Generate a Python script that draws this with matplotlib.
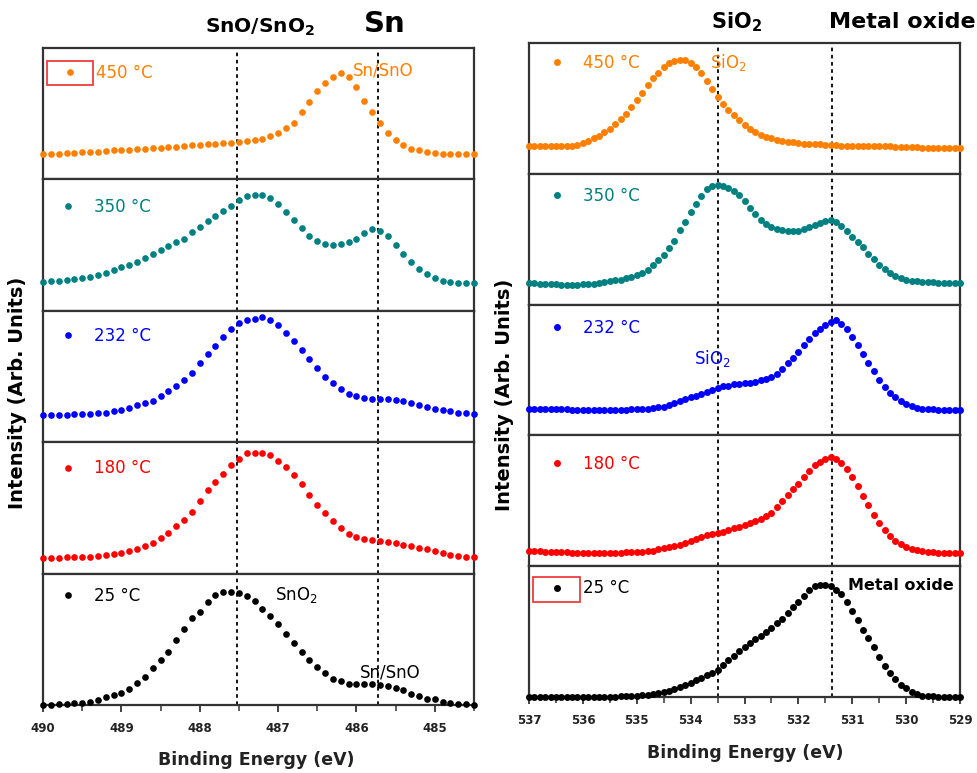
import numpy as np
import matplotlib
matplotlib.use("Agg")
import matplotlib.pyplot as plt
from matplotlib.patches import Rectangle
from matplotlib.ticker import MultipleLocator

plt.rcParams['font.family'] = ['DejaVu Sans']

# ---------------- data ----------------
temps = ["450 °C", "350 °C", "232 °C", "180 °C", "25 °C"]
colors = ["#FF8000", "#008080", "#0000FF", "#FF0000", "#000000"]

sn_energy = np.round(np.linspace(490.0, 484.5, 56), 2)
sn_450 = [0.19, 0.19, 0.195, 0.20, 0.20, 0.205, 0.21, 0.21, 0.215, 0.22,
          0.22, 0.225, 0.23, 0.235, 0.24, 0.24, 0.245, 0.25, 0.255, 0.26,
          0.265, 0.27, 0.27, 0.275, 0.28, 0.285, 0.29, 0.30, 0.31, 0.33,
          0.355, 0.39, 0.43, 0.51, 0.59, 0.67, 0.73, 0.78, 0.81, 0.78,
          0.70, 0.60, 0.51, 0.43, 0.35, 0.30, 0.26, 0.235, 0.22, 0.21,
          0.20, 0.195, 0.19, 0.19, 0.19, 0.19]
sn_350 = [0.22, 0.225, 0.23, 0.235, 0.24, 0.25, 0.26, 0.275, 0.29, 0.31,
          0.33, 0.35, 0.37, 0.40, 0.43, 0.46, 0.49, 0.52, 0.55, 0.60,
          0.64, 0.68, 0.72, 0.76, 0.80, 0.84, 0.87, 0.885, 0.88, 0.86,
          0.81, 0.75, 0.69, 0.63, 0.57, 0.53, 0.51, 0.50, 0.505, 0.52,
          0.55, 0.59, 0.62, 0.61, 0.57, 0.50, 0.43, 0.37, 0.32, 0.28,
          0.25, 0.23, 0.22, 0.215, 0.21, 0.21]
sn_232 = [0.21, 0.21, 0.21, 0.21, 0.215, 0.215, 0.215, 0.22, 0.225, 0.235,
          0.245, 0.26, 0.28, 0.295, 0.315, 0.35, 0.39, 0.43, 0.47, 0.53,
          0.60, 0.67, 0.73, 0.80, 0.86, 0.91, 0.93, 0.94, 0.95, 0.93,
          0.89, 0.83, 0.77, 0.70, 0.63, 0.565, 0.50, 0.45, 0.405, 0.37,
          0.35, 0.335, 0.33, 0.33, 0.33, 0.32, 0.31, 0.30, 0.285, 0.27,
          0.255, 0.245, 0.235, 0.225, 0.22, 0.215]
sn_180 = [0.12, 0.12, 0.12, 0.125, 0.125, 0.13, 0.13, 0.135, 0.14, 0.15,
          0.16, 0.17, 0.19, 0.21, 0.235, 0.27, 0.31, 0.36, 0.41, 0.47,
          0.555, 0.64, 0.70, 0.76, 0.83, 0.875, 0.915, 0.92, 0.92, 0.90,
          0.86, 0.81, 0.75, 0.68, 0.60, 0.52, 0.46, 0.40, 0.35, 0.30,
          0.28, 0.265, 0.255, 0.25, 0.24, 0.23, 0.22, 0.21, 0.195, 0.185,
          0.17, 0.16, 0.145, 0.135, 0.13, 0.125]
sn_25 = [0.0, 0.0, 0.005, 0.008, 0.012, 0.018, 0.025, 0.04, 0.06, 0.075,
         0.095, 0.125, 0.165, 0.21, 0.28, 0.345, 0.40, 0.495, 0.58, 0.66,
         0.71, 0.785, 0.835, 0.86, 0.86, 0.85, 0.83, 0.79, 0.73, 0.675,
         0.615, 0.54, 0.475, 0.405, 0.345, 0.29, 0.245, 0.20, 0.18, 0.16,
         0.16, 0.16, 0.16, 0.155, 0.145, 0.13, 0.115, 0.085, 0.07, 0.045,
         0.045, 0.025, 0.015, 0.01, 0.005, 0.0]

o_energy = np.round(np.linspace(537.0, 529.0, 81), 2)
o_450 = [0.21, 0.21, 0.21, 0.21, 0.21, 0.21, 0.21, 0.21,
         0.215, 0.22, 0.235, 0.25, 0.27, 0.29, 0.32, 0.345, 0.38, 0.42,
         0.46, 0.51, 0.565, 0.62, 0.68, 0.73, 0.77, 0.815, 0.845, 0.865,
         0.87, 0.87, 0.85, 0.815, 0.77, 0.71, 0.65, 0.59, 0.535, 0.49,
         0.45, 0.41, 0.375, 0.345, 0.32, 0.30, 0.285, 0.27, 0.26, 0.25,
         0.245, 0.24, 0.235, 0.23, 0.23, 0.225, 0.225, 0.22, 0.22, 0.22,
         0.215, 0.215, 0.215, 0.21, 0.21, 0.21, 0.21, 0.21, 0.21, 0.21,
         0.205, 0.205, 0.205, 0.205, 0.205, 0.20, 0.20, 0.20, 0.20, 0.20,
         0.20, 0.20, 0.20]
o_350 = [0.165, 0.165, 0.16, 0.16, 0.155, 0.155, 0.15, 0.15, 0.15, 0.15,
         0.155, 0.155, 0.16, 0.165, 0.17, 0.18, 0.185, 0.19, 0.20, 0.21,
         0.225, 0.24, 0.265, 0.30, 0.34, 0.38, 0.43, 0.49, 0.57, 0.635,
         0.71, 0.77, 0.83, 0.88, 0.91, 0.915, 0.905, 0.89, 0.87, 0.84,
         0.79, 0.74, 0.69, 0.645, 0.615, 0.595, 0.58, 0.57, 0.565, 0.56,
         0.565, 0.575, 0.59, 0.61, 0.625, 0.64, 0.65, 0.635, 0.60, 0.56,
         0.52, 0.48, 0.44, 0.39, 0.35, 0.305, 0.27, 0.24, 0.215, 0.20,
         0.19, 0.18, 0.18, 0.175, 0.17, 0.17, 0.165, 0.165, 0.165, 0.165,
         0.165]
o_232 = [0.20, 0.20, 0.20, 0.20, 0.20, 0.20, 0.20, 0.20, 0.195, 0.195,
         0.195, 0.195, 0.195, 0.195, 0.195, 0.195, 0.195, 0.195, 0.195, 0.20,
         0.20, 0.20, 0.205, 0.21, 0.215, 0.22, 0.23, 0.245, 0.26, 0.275,
         0.29, 0.30, 0.315, 0.33, 0.345, 0.36, 0.375, 0.38, 0.39, 0.395,
         0.40, 0.40, 0.41, 0.42, 0.43, 0.445, 0.47, 0.505, 0.55, 0.59,
         0.64, 0.69, 0.74, 0.78, 0.81, 0.845, 0.87, 0.88, 0.855, 0.81,
         0.75, 0.69, 0.62, 0.55, 0.49, 0.425, 0.37, 0.325, 0.29, 0.26,
         0.24, 0.225, 0.21, 0.205, 0.20, 0.20, 0.195, 0.195, 0.195, 0.195,
         0.195]
o_180 = [0.115, 0.115, 0.115, 0.11, 0.11, 0.11, 0.105, 0.105, 0.10, 0.10,
         0.10, 0.10, 0.10, 0.10, 0.10, 0.10, 0.10, 0.10, 0.105, 0.105,
         0.11, 0.11, 0.115, 0.12, 0.13, 0.14, 0.15, 0.155, 0.165, 0.18,
         0.19, 0.205, 0.22, 0.235, 0.245, 0.255, 0.265, 0.28, 0.29, 0.30,
         0.315, 0.33, 0.345, 0.36, 0.385, 0.41, 0.45, 0.50, 0.545, 0.59,
         0.63, 0.68, 0.73, 0.77, 0.80, 0.82, 0.835, 0.82, 0.79, 0.74,
         0.68, 0.615, 0.54, 0.465, 0.39, 0.33, 0.275, 0.23, 0.195, 0.17,
         0.15, 0.135, 0.125, 0.115, 0.11, 0.105, 0.10, 0.10, 0.10, 0.10,
         0.10]
o_25 = [0.0, 0.0, 0.0, 0.0, 0.0, 0.0, 0.0, 0.0, 0.0, 0.0,
        0.0, 0.0, 0.0, 0.0, 0.0, 0.0, 0.002, 0.005, 0.005, 0.008,
        0.01, 0.012, 0.015, 0.02, 0.028, 0.035, 0.045, 0.06, 0.075, 0.09,
        0.11, 0.13, 0.145, 0.165, 0.185, 0.21, 0.245, 0.28, 0.315, 0.35,
        0.38, 0.415, 0.44, 0.47, 0.50, 0.53, 0.565, 0.60, 0.645, 0.69,
        0.73, 0.775, 0.82, 0.845, 0.86, 0.86, 0.845, 0.82, 0.79, 0.73,
        0.66, 0.59, 0.51, 0.45, 0.38, 0.305, 0.235, 0.18, 0.135, 0.095,
        0.065, 0.04, 0.02, 0.01, 0.005, 0.005, 0.0, 0.0, 0.0, 0.0,
        0.0]

sn_series = [sn_450, sn_350, sn_232, sn_180, sn_25]
o_series = [o_450, o_350, o_232, o_180, o_25]
sn_lines = [487.53, 485.72]
o_lines = [533.5, 531.38]
sn_xticks = [490, 489, 488, 487, 486, 485]
o_xticks = [537, 536, 535, 534, 533, 532, 531, 530, 529]

# ---------------- figure ----------------
W, H = 977, 773
fig = plt.figure(figsize=(W / 100, H / 100), dpi=100)

def fx(px):
    return px / W

def fy(py):
    return 1 - py / H

FRAME = "#333333"

def make_column(x0, x1, ytop, ybot, energy, series, vlines, xlim, xticks,
                legend_y, ms):
    n = len(series)
    h = (ybot - ytop) / n
    axes = []
    for i in range(n):
        top = ytop + i * h
        ax = fig.add_axes([fx(x0), fy(top + h), fx(x1 - x0), h / H])
        ax.plot(energy, series[i], linestyle="none", marker="o", ms=ms,
                mew=0, color=colors[i], clip_on=False, label=temps[i],
                zorder=3)
        for v in vlines:
            ax.axvline(v, color="black", linestyle=(0, (2.0, 2.0)), lw=1.3,
                       zorder=2)
        ax.set_xlim(*xlim)
        ax.set_ylim(0, 1)
        ax.set_yticks([])
        for s in ax.spines.values():
            s.set_color(FRAME)
            s.set_linewidth(1.6)
        if i < n - 1:
            ax.set_xticks([])
        else:
            ax.set_xticks(xticks)
            ax.xaxis.set_minor_locator(MultipleLocator(0.5))
            ax.tick_params(axis="x", which="major", direction="out",
                           length=5, width=1.3, color=FRAME, pad=7,
                           labelsize=8.5, labelcolor="#222222")
            ax.tick_params(axis="x", which="minor", direction="out",
                           length=4, width=1.1, color=FRAME)
            for lab in ax.get_xticklabels():
                lab.set_fontweight("bold")
        leg = ax.legend(loc="center left",
                        bbox_to_anchor=(legend_y[i][0], legend_y[i][1]),
                        frameon=False, borderpad=0, borderaxespad=0,
                        handlelength=1.0, handletextpad=1.05,
                        markerscale=1.0, fontsize=12)
        for t in leg.get_texts():
            t.set_color(colors[i])
        axes.append(ax)
    return axes

left_leg = [(0.043, 0.81), (0.039, 0.79), (0.039, 0.81), (0.039, 0.80),
            (0.039, 0.83)]
right_leg = [(0.046, 0.85), (0.046, 0.83), (0.046, 0.82), (0.046, 0.785),
             (0.046, 0.83)]

left_axes = make_column(43, 474, 48, 705, sn_energy, sn_series, sn_lines,
                        (490, 484.5), sn_xticks, left_leg, 4.8)
right_axes = make_column(529, 960, 43, 697, o_energy, o_series, o_lines,
                         (537, 529), o_xticks, right_leg, 5.0)

# red boxes around legend markers
left_axes[0].add_patch(Rectangle((0.009, 0.72), 0.107, 0.18,
                                 transform=left_axes[0].transAxes,
                                 fill=False, edgecolor="#F03C3C", lw=1.3,
                                 clip_on=False, zorder=5))
right_axes[4].add_patch(Rectangle((0.009, 0.73), 0.109, 0.19,
                                  transform=right_axes[4].transAxes,
                                  fill=False, edgecolor="#F03C3C", lw=1.3,
                                  clip_on=False, zorder=5))

# annotations inside panels
left_axes[0].text(486.05, 0.83, "Sn/SnO", color=colors[0], fontsize=12,
                  ha="left", va="center")
left_axes[4].text(487.04, 0.84, "SnO$_2$", color="black", fontsize=12,
                  ha="left", va="center")
left_axes[4].text(485.96, 0.25, "Sn/SnO", color="black", fontsize=12,
                  ha="left", va="center")
right_axes[0].text(533.64, 0.85, "SiO$_2$", color=colors[0], fontsize=12,
                   ha="left", va="center")
right_axes[2].text(533.94, 0.59, "SiO$_2$", color=colors[2], fontsize=12,
                   ha="left", va="center")
right_axes[4].text(531.08, 0.85, "Metal oxide", color="black", fontsize=11.5,
                   fontweight="bold", ha="left", va="center")

# header labels
fig.text(fx(260), fy(27), "SnO/SnO$_\\mathbf{2}$", fontsize=14.5,
         fontweight="bold", ha="center", va="center")
fig.text(fx(385), fy(24), "Sn", fontsize=21, fontweight="bold",
         ha="center", va="center")
fig.text(fx(737), fy(22), "SiO$_\\mathbf{2}$", fontsize=15, fontweight="bold",
         ha="center", va="center")
fig.text(fx(902), fy(22), "Metal oxide", fontsize=16, fontweight="bold",
         ha="center", va="center")

# axis labels
fig.text(fx(18), fy(393), "Intensity (Arb. Units)", fontsize=14,
         fontweight="bold", rotation=90, ha="center", va="center")
fig.text(fx(504), fy(395), "Intensity (Arb. Units)", fontsize=14,
         fontweight="bold", rotation=90, ha="center", va="center")
fig.text(fx(256), fy(760), "Binding Energy (eV)", fontsize=12.5,
         fontweight="bold", ha="center", va="center", color="#222222")
fig.text(fx(745), fy(753), "Binding Energy (eV)", fontsize=12.5,
         fontweight="bold", ha="center", va="center", color="#222222")

fig.savefig("out.png", dpi=100)
